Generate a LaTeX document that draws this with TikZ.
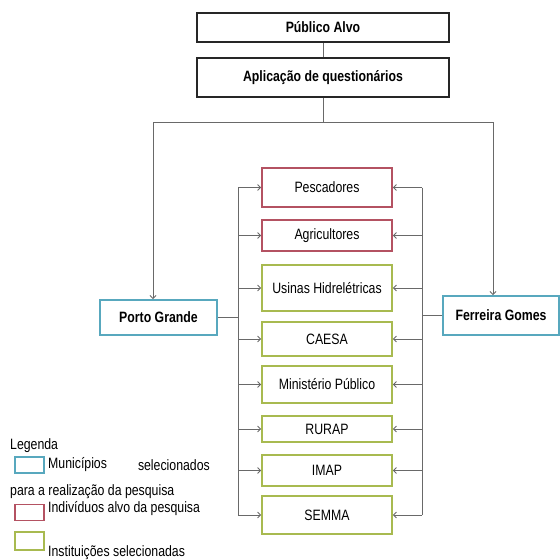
\documentclass[tikz,border=0pt]{standalone}
\usepackage{fontspec}
\setmainfont[FakeStretch=0.82]{Liberation Sans}
\usepackage{tikz}
\usetikzlibrary{arrows.meta}
\definecolor{citycol}{RGB}{88,168,190}
\definecolor{targetcol}{RGB}{180,82,98}
\definecolor{instcol}{RGB}{168,186,80}
\definecolor{linecol}{RGB}{105,105,105}

\begin{document}
\begin{tikzpicture}[x=1pt,y=-1pt,
   every node/.style={font=\fontsize{15}{17}\selectfont,inner sep=0pt},
   head/.style={draw=black!85,line width=2pt,minimum width=252pt,font=\fontsize{15}{17}\selectfont\bfseries},
   city/.style={draw=citycol,line width=2pt,minimum width=117pt,font=\fontsize{15}{17}\selectfont\bfseries},
   target/.style={draw=targetcol,line width=1.8pt,minimum width=130pt},
   inst/.style={draw=instcol,line width=1.8pt,minimum width=130pt},
   key/.style={line width=1.2pt,minimum width=29pt,minimum height=16pt},
   txt/.style={anchor=west},
   line/.style={draw=linecol,line width=0.8pt},
   to/.style={-{Straight Barb[length=3pt,width=6pt]},draw=linecol,line width=0.8pt}]
\useasboundingbox (0,0) rectangle (560,560);

\node[head,minimum height=29pt] (alvo) at (323,27.5) {Público Alvo};
\node[head,minimum height=39pt] (aplic) at (323,77.5) {Aplicação de questionários};

\node[city,minimum height=35pt] (porto) at (158.5,317.5) {Porto Grande};
\node[city,minimum height=39pt,minimum width=116pt] (ferreira) at (501,315.5) {Ferreira Gomes};

\node[target,minimum height=39pt] (pesc) at (327,187.5) {Pescadores};
\node[target,minimum height=31pt] (agri) at (327,235.5) {Agricultores};
\node[inst,minimum height=46pt] (usinas) at (327,288) {Usinas Hidrelétricas};
\node[inst,minimum height=34pt] (caesa) at (327,339) {CAESA};
\node[inst,minimum height=37pt] (mp) at (327,384.5) {Ministério Público};
\node[inst,minimum height=26pt] (rurap) at (327,429) {RURAP};
\node[inst,minimum height=31pt] (imap) at (327,470.5) {IMAP};
\node[inst,minimum height=38pt] (semma) at (327,515) {SEMMA};

\coordinate (split) at (323,122);
\coordinate (lsplit) at (153,122);
\coordinate (rsplit) at (493,122);
\coordinate (lbus) at (238,187.5);
\coordinate (rbus) at (422,187.5);

% top of the tree
\draw[line] (alvo) -- (aplic);
\draw[line] (aplic) -- (split);
\draw[line] (lsplit) -- (rsplit);
\draw[to] (lsplit) -- (lsplit |- porto.north);
\draw[to] (rsplit) -- (rsplit |- ferreira.north);

% left bus
\draw[line] (porto) -- (lbus |- porto);
\draw[line] (lbus) -- (lbus |- semma);
\draw[to] (lbus |- pesc) -- (pesc);
\draw[to] (lbus |- agri) -- (agri);
\draw[to] (lbus |- usinas) -- (usinas);
\draw[to] (lbus |- caesa) -- (caesa);
\draw[to] (lbus |- mp) -- (mp);
\draw[to] (lbus |- rurap) -- (rurap);
\draw[to] (lbus |- imap) -- (imap);
\draw[to] (lbus |- semma) -- (semma);

% right bus
\draw[line] (ferreira) -- (rbus |- ferreira);
\draw[line] (rbus) -- (rbus |- semma);
\draw[to] (rbus |- pesc) -- (pesc);
\draw[to] (rbus |- agri) -- (agri);
\draw[to] (rbus |- usinas) -- (usinas);
\draw[to] (rbus |- caesa) -- (caesa);
\draw[to] (rbus |- mp) -- (mp);
\draw[to] (rbus |- rurap) -- (rurap);
\draw[to] (rbus |- imap) -- (imap);
\draw[to] (rbus |- semma) -- (semma);

% legend
\node[txt] (legenda) at (10,446) {Legenda};
\node[key,draw=citycol] (kcity) at (29.5,465) {};
\node[txt] (lcity) at (48,465) {Municípios};
\node[anchor=east] (lsel) at (210,465) {selecionados};
\node[txt] (lpara) at (10,492) {para a realização da pesquisa};
\node[key,draw=targetcol] (ktarget) at (29.5,512.5) {};
\node[txt] (ltarget) at (48,509) {Indivíduos alvo da pesquisa};
\node[key,draw=instcol,minimum height=18pt] (kinst) at (29.5,541) {};
\node[txt] (linst) at (48,553) {Instituições selecionadas};
\end{tikzpicture}
\end{document}
